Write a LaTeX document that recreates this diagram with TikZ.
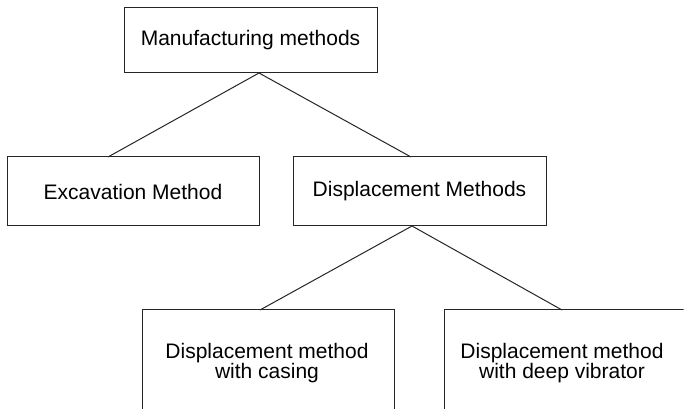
\documentclass[tikz,border=0pt]{standalone}
\usepackage{fontspec}
\setmainfont{Liberation Sans}
\usetikzlibrary{calc}
\begin{document}
\begin{tikzpicture}[x=1pt,y=1pt,
  box/.style={draw=black!85, line width=1pt, rectangle, inner sep=0pt,
    font=\fontsize{21}{20.5}\selectfont, align=center},
  link/.style={draw=black!85, line width=1pt},
  frame/.style={draw=black!85, line width=1pt}]
  \useasboundingbox (0,0) rectangle (689,409);

  % upper two levels
  \node[box, minimum width=253, minimum height=65] (top) at (250.5,368.5) {Manufacturing methods};
  \node[box, minimum width=252, minimum height=69] (exc) at (133,217.5) {Excavation Method};
  \node[box, minimum width=253, minimum height=69] (dis) at (419.5,217.5) {Displacement Methods};

  % lower level: boxes run past the page edge
  \node[font=\fontsize{21}{20.5}\selectfont, align=center] (cas) at (267,46)
    {Displacement method\\with casing};
  \node[font=\fontsize{21}{20.5}\selectfont, align=center] (vib) at (562,46)
    {Displacement method\\with deep vibrator};
  \begin{scope}
    \clip (0,0) rectangle (683.5,409);
    \draw[frame] (142,-20) -- (142,99) -- (394,99) -- (394,-20);
    \draw[frame] (444,-20) -- (444,99) -- (700,99);
  \end{scope}

  % joints of the connectors
  \coordinate (j1) at (259,336);
  \coordinate (e1) at (108,252);
  \coordinate (d1) at (411,252);
  \coordinate (j2) at (412,183);
  \coordinate (c1) at (260,99);
  \coordinate (v1) at (562,99);

  \draw[link] (e1) -- (j1) -- (d1);
  \draw[link] (c1) -- (j2) -- (v1);
\end{tikzpicture}
\end{document}
